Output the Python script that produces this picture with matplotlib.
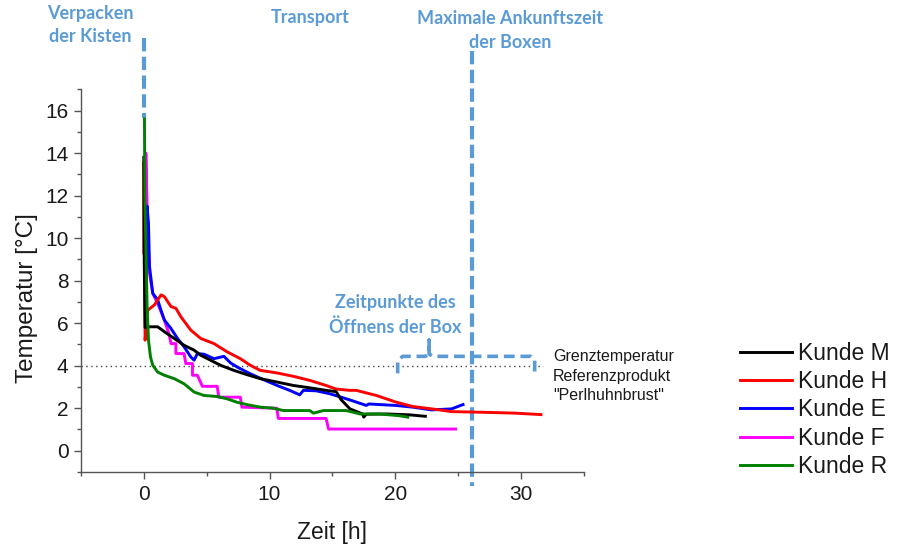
import matplotlib
matplotlib.use("Agg")
import matplotlib.pyplot as plt
from matplotlib.ticker import MultipleLocator

plt.rcParams['font.family'] = ['Liberation Sans', 'DejaVu Sans']

# Temperature logs per customer: time [h], temperature [°C]
t_M = [0.0, 0.03, 0.1, 0.5, 1.1, 1.63, 2.42, 3.2, 4.0, 4.53, 5.3, 6.1, 7.16, 8.2, 9.26, 10.6,
       11.9, 13.2, 14.5, 15.3, 15.7, 16.4, 17.4, 17.5, 17.7, 19.3, 21.1, 22.4]
T_M = [13.8, 9.0, 5.8, 5.83, 5.83, 5.6, 5.28, 4.96, 4.73, 4.49, 4.26, 4.02, 3.78, 3.58, 3.39, 3.23,
       3.07, 2.96, 2.84, 2.78, 2.4, 1.97, 1.73, 1.58, 1.72, 1.73, 1.69, 1.62]

t_H = [0.0, 0.02, 0.05, 0.1, 0.3, 0.84, 1.37, 1.63, 2.16, 2.55, 2.95, 3.74, 4.53, 5.58, 6.63, 7.68,
       8.47, 9.26, 10.58, 11.9, 13.2, 14.5, 15.3, 16.4, 16.9, 18.5, 20.05, 21.4, 22.9, 24.5, 26.9,
       29.5, 31.6]
T_H = [9.3, 13.6, 9.5, 5.2, 6.6, 6.86, 7.33, 7.25, 6.78, 6.7, 6.3, 5.67, 5.28, 5.04, 4.65, 4.33,
       4.02, 3.78, 3.66, 3.5, 3.31, 3.07, 2.9, 2.84, 2.84, 2.6, 2.29, 2.08, 1.97, 1.84, 1.81,
       1.77, 1.70]

t_E = [0.2, 0.26, 0.37, 0.45, 0.71, 1.1, 1.37, 1.63, 2.16, 2.68, 3.2, 3.74, 4.0, 4.26, 4.79, 5.58,
       6.37, 6.9, 7.42, 8.47, 9.53, 10.6, 11.6, 12.4, 12.7, 13.7, 14.8, 15.8, 16.6, 17.7, 17.9,
       20.05, 21.4, 22.9, 24.5, 25.2, 25.4]
T_E = [8.0, 11.5, 10.7, 8.67, 7.4, 7.1, 6.6, 6.15, 5.75, 5.28, 4.89, 4.41, 4.26, 4.57, 4.54, 4.33,
       4.44, 4.13, 3.94, 3.62, 3.34, 3.07, 2.84, 2.63, 2.84, 2.82, 2.68, 2.5, 2.35, 2.13, 2.2,
       2.13, 2.05, 1.92, 1.97, 2.13, 2.17]

t_F = [0.12, 0.16, 0.3, 0.45, 0.71, 1.1, 1.37, 1.63, 2.0, 2.16, 2.55, 2.55, 3.2, 3.34, 3.87, 3.87,
       4.26, 4.66, 5.84, 5.97, 7.68, 7.8, 10.58, 10.7, 14.5, 14.7, 24.8]
T_F = [9.0, 14.0, 10.6, 8.35, 7.4, 6.93, 6.54, 6.15, 5.5, 5.04, 5.04, 4.57, 4.57, 4.1, 4.1, 3.55,
       3.55, 3.03, 3.03, 2.52, 2.52, 2.05, 2.0, 1.52, 1.52, 1.02, 1.02]

t_R = [0.05, 0.08, 0.26, 0.37, 0.53, 0.71, 1.1, 1.63, 2.42, 3.2, 4.0, 4.79, 5.84, 6.63, 7.42, 8.2,
       9.26, 10.3, 11.1, 13.2, 13.5, 14.3, 16.1, 17.2, 18.7, 20.3, 21.0]
T_R = [15.6, 12.0, 6.78, 5.2, 4.41, 4.02, 3.7, 3.55, 3.39, 3.15, 2.76, 2.6, 2.55, 2.44, 2.28, 2.17,
       2.05, 2.0, 1.89, 1.89, 1.77, 1.89, 1.89, 1.73, 1.73, 1.65, 1.58]

series = [
    ("Kunde M", t_M, T_M, "black"),
    ("Kunde H", t_H, T_H, "red"),
    ("Kunde E", t_E, T_E, "blue"),
    ("Kunde F", t_F, T_F, "magenta"),
    ("Kunde R", t_R, T_R, "green"),
]

limit_temp = 4.0
packing_time = 0.0
max_arrival = 26.1

BLUE = "#5B9BD5"
W, H = 897, 547

fig = plt.figure(figsize=(W / 100, H / 100), dpi=100)
ax = fig.add_axes([81 / W, 1 - 472 / H, (583.7 - 81) / W, (472 - 89.3) / H])

# threshold line
ax.plot([-5, 31.8], [limit_temp, limit_temp], ls=(0, (1, 2.5)), lw=1.0, color="#444444",
        clip_on=False, zorder=1)

zorders = {"Kunde F": 3.0, "Kunde E": 3.1, "Kunde H": 3.2, "Kunde M": 3.3, "Kunde R": 3.4}
handles = {}
for name, t, T, c in series:
    ln, = ax.plot(t, T, color=c, lw=2.1, label=name, zorder=zorders[name])
    handles[name] = ln

ax.set_xlim(-5, 35)
ax.set_ylim(-1, 17)
ax.xaxis.set_major_locator(MultipleLocator(10))
ax.xaxis.set_minor_locator(MultipleLocator(5))
ax.yaxis.set_major_locator(MultipleLocator(2))
ax.yaxis.set_minor_locator(MultipleLocator(1))
for s in ("top", "right"):
    ax.spines[s].set_visible(False)
for s in ("left", "bottom"):
    ax.spines[s].set_color("#555555")
    ax.spines[s].set_linewidth(1.0)
ax.tick_params(which="major", direction="out", length=5, width=1, color="#555555",
               labelsize=15, labelcolor="#1a1a1a", pad=4)
ax.tick_params(which="minor", direction="out", length=3, width=1, color="#555555")
ax.set_xlabel("Zeit [h]", fontsize=16.5, color="#1a1a1a", labelpad=12.5)
ax.set_ylabel("Temperatur [°C]", fontsize=17.5, color="#1a1a1a", labelpad=5, y=0.455)

# process markers (dashed blue)
dash = (0, (3.2, 1.3))
ax.plot([packing_time, packing_time], [19.4, 15.65], color=BLUE, lw=3, ls=dash,
        clip_on=False, zorder=2)
ax.plot([max_arrival, max_arrival], [18.8, -1.65], color=BLUE, lw=3, ls=dash,
        clip_on=False, zorder=2)

# bracket for the box opening times
bx = [20.2, 20.2, 20.6, 22.4, 22.7, 22.7, 22.7, 23.0, 30.8, 31.1, 31.1]
by = [3.64, 4.25, 4.44, 4.44, 4.55, 5.2, 4.55, 4.44, 4.44, 4.3, 3.64]
ax.plot(bx, by, color=BLUE, lw=2.6, ls=(0, (3.0, 1.6)), clip_on=False, zorder=2,
        solid_capstyle="butt")

def ftext(x, y, s, **kw):
    fig.text(x / W, 1 - y / H, s, **kw)

blue_kw = dict(color=BLUE, fontsize=13, fontweight="bold", family=["Lato", "DejaVu Sans"],
               ha="center", va="center", linespacing=1.5)
ftext(90, 25, "Verpacken\nder Kisten", **blue_kw)
ftext(310, 17, "Transport", **blue_kw)
ftext(510, 30, "Maximale Ankunftszeit\nder Boxen", **blue_kw)
ftext(395, 315, "Zeitpunkte des\nÖffnens der Box", **blue_kw)

ftext(553, 376, "Grenztemperatur\nReferenzprodukt\n\"Perlhuhnbrust\"", fontsize=11.5,
      color="#1a1a1a", ha="left", va="center", linespacing=1.4)

names = ["Kunde M", "Kunde H", "Kunde E", "Kunde F", "Kunde R"]
leg = fig.legend([handles[n] for n in names], names,
                 loc="center left", bbox_to_anchor=(740 / W, 1 - 410 / H), frameon=False,
                 fontsize=16.5, handlelength=2.27, handletextpad=0.26, labelspacing=0.23,
                 borderpad=0, borderaxespad=0)
for txt in leg.get_texts():
    txt.set_color("#1a1a1a")

fig.savefig("out.png", dpi=100)
